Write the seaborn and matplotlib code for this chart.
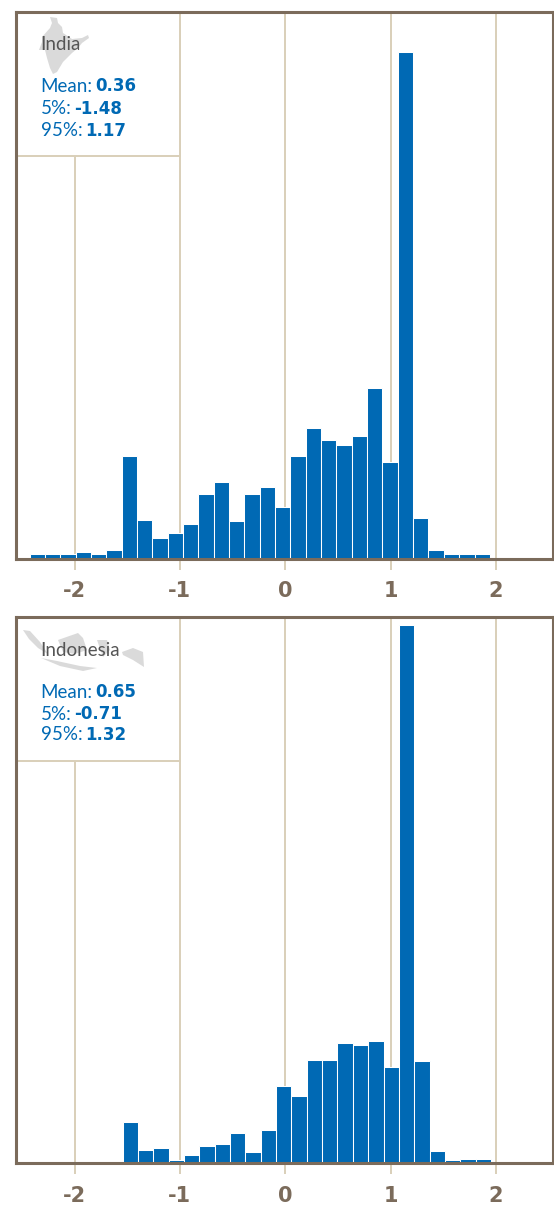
import numpy as np
import matplotlib
matplotlib.use('Agg')
import matplotlib.pyplot as plt
from matplotlib.patches import Polygon, Rectangle
import seaborn as sns

# Bar heights, first bin starts near -2.42
india_values = [4, 4, 4.5, 6.5, 4, 8, 102.5, 38, 20, 25.5, 34, 64, 76, 37, 64, 71,
                51.5, 102.5, 130.5, 118.5, 113.5, 122, 170.5, 96, 506, 40.5, 8, 4, 4, 4.5]
indonesia_values = [0, 0, 0, 0, 0, 0, 41.3, 12.7, 14.7, 3.5, 8.5, 17.3, 19, 29.7, 11.3, 33,
                    77, 67, 102.7, 102.7, 120, 118.3, 121.7, 96, 538, 101.7, 12.3, 3.5, 4, 4]
tick_values = [-2, -1, 0, 1, 2]
india_stats = ['0.36', '-1.48', '1.17']
indonesia_stats = ['0.65', '-0.71', '1.32']
stat_labels = ['Mean:', '5%:', '95%:']

# Map silhouettes behind the country names, in image pixels
india_shape = [(50, 17), (57, 18), (58, 23), (62, 27), (63, 33), (72, 39), (82, 38), (88, 35),
               (89, 38), (82, 43), (78, 48), (72, 53), (63, 62), (57, 72), (53, 74), (50, 68),
               (47, 58), (45, 50), (39, 50), (42, 42), (42, 37), (50, 28), (52, 23)]
indonesia_shapes = [
    [(23, 630), (30, 631), (40, 642), (48, 654), (38, 648), (29, 639)],
    [(58, 640), (78, 633), (83, 638), (87, 650), (75, 654), (63, 652)],
    [(41, 658), (57, 661), (80, 666), (97, 668), (83, 671), (60, 666)],
    [(97, 640), (107, 640), (110, 650), (103, 657)],
    [(122, 652), (133, 648), (143, 652), (144, 667), (133, 660), (123, 655)],
]

bar_color = '#0069b4'
frame_color = '#7b6b5b'
grid_color = '#d9cfb9'
map_color = '#dadada'
name_color = '#555555'

sns.set_theme(style='white')
plt.rcParams['font.family'] = ['Lato', 'DejaVu Sans']

W, H = 554, 1208
fig = plt.figure(figsize=(W / 100, H / 100), dpi=100)


def make_panel(top, bottom, values, start, name, stats, name_y, stat_ys):
    ax = fig.add_axes([15.5 / W, 1 - bottom / H, 537.5 / W, (bottom - top) / H])
    width = 0.1456
    end = start + width * len(values)
    centers = start + width * (np.arange(len(values)) + 0.5)
    # int bins + binrange, seaborn chokes on an array of edges together with weights
    sns.histplot(x=centers, weights=values, bins=len(values), binrange=(start, end),
                 color=bar_color, alpha=1, edgecolor='white', linewidth=0.75, ax=ax)
    ax.set_xlim(-2.56, 2.54)
    ax.set_ylim(0, 546)
    ax.set_xlabel('')
    ax.set_ylabel('')
    ax.set_yticks([])
    ax.set_xticks(tick_values)
    ax.set_xticklabels([str(t) for t in tick_values], family='DejaVu Sans',
                       fontweight='bold', fontsize=15, color=frame_color)
    ax.tick_params(axis='x', length=8, width=1.4, color=grid_color, pad=8.5, bottom=True)
    ax.set_axisbelow(True)
    ax.grid(axis='x', color=grid_color, linewidth=1.4)
    for side in ax.spines:
        ax.spines[side].set_color(frame_color)
        ax.spines[side].set_linewidth(2.2)
        ax.spines[side].set_zorder(5)

    # White box in the corner that hides the grid lines
    ax.add_patch(Rectangle((-2.56, 402), 1.56, 144, facecolor='white', edgecolor=grid_color,
                           linewidth=1.4, zorder=1.5))

    renderer = fig.canvas.get_renderer()
    fig.text(40.5 / W, 1 - name_y / H, name, color=name_color, fontsize=13.5, va='center', zorder=6)
    for label, val, y in zip(stat_labels, stats, stat_ys):
        t = fig.text(40.5 / W, 1 - y / H, label, color=bar_color, fontsize=13.5, va='center', zorder=6)
        x1 = t.get_window_extent(renderer).x1
        fig.text((x1 + 3) / W, 1 - y / H, val, color=bar_color, fontsize=12,
                 family='DejaVu Sans', fontweight='bold', va='center', zorder=6)
    return ax


make_panel(12, 558.5, india_values, -2.427, 'India', india_stats, 45, [86, 109, 131])
make_panel(617, 1163, indonesia_values, -2.417, 'Indonesia', indonesia_stats, 650, [692, 714, 735])

# Grey maps go under the names
for shape in [india_shape] + indonesia_shapes:
    pts = [(x / W, 1 - y / H) for x, y in shape]
    fig.add_artist(Polygon(pts, closed=True, transform=fig.transFigure, facecolor=map_color,
                           edgecolor='none', zorder=5))

fig.savefig('out.png', dpi=100)
